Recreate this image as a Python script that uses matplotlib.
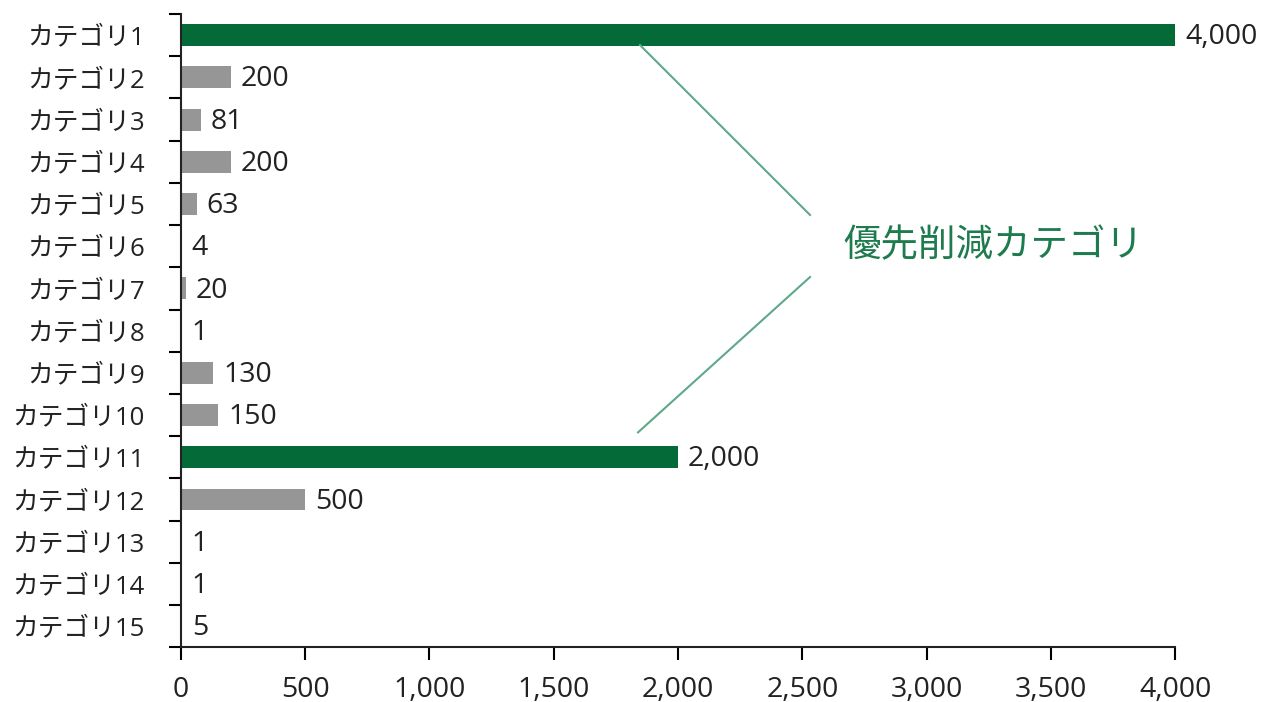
import matplotlib
matplotlib.use("Agg")
import matplotlib.pyplot as plt
from matplotlib.ticker import FuncFormatter, FixedLocator

plt.rcParams['font.family'] = ['Open Sans', 'Noto Sans CJK JP', 'DejaVu Sans']

categories = [f"カテゴリ{i}" for i in range(1, 16)]
values = [4000, 200, 81, 200, 63, 4, 20, 1, 130, 150, 2000, 500, 1, 1, 5]
priority = ["カテゴリ1", "カテゴリ11"]
annotation_label = "優先削減カテゴリ"
x_ticks = [0, 500, 1000, 1500, 2000, 2500, 3000, 3500, 4000]

green = "#046A38"
gray = "#969696"
text_color = "#222222"
colors = [green if c in priority else gray for c in categories]

fig = plt.figure(figsize=(12.65, 7.02), dpi=100)
ax = fig.add_axes([0.143, 0.078, 0.786, 0.902])

y = list(range(len(categories)))
ax.barh(y, values, height=0.52, color=colors)
ax.set_ylim(len(categories) - 0.5, -0.5)
ax.set_xlim(0, 4000)

for yi, v in zip(y, values):
    ax.text(v + 40, yi + 0.05, f"{v:,}", va='center', ha='left', fontsize=20.5, color=text_color)

ax.set_yticks(y)
ax.set_yticklabels(categories, fontsize=18.5, color=text_color)
ax.tick_params(axis='y', which='major', length=0, pad=26)
ax.yaxis.set_minor_locator(FixedLocator([i - 0.5 for i in range(len(categories) + 1)]))
ax.tick_params(axis='y', which='minor', length=9, width=1.5, direction='out')

ax.set_xticks(x_ticks)
ax.xaxis.set_major_formatter(FuncFormatter(lambda v, p: f"{int(v):,}"))
ax.tick_params(axis='x', length=9, width=1.5, direction='out', labelsize=20.5, pad=12, labelcolor=text_color)

for s in ['top', 'right']:
    ax.spines[s].set_visible(False)
for s in ['left', 'bottom']:
    ax.spines[s].set_linewidth(1.5)
    ax.spines[s].set_color(text_color)

line_color = "#5FA88A"
ax.plot([1847, 2531], [0.235, 4.26], color=line_color, lw=1.5, clip_on=False)
ax.plot([2531, 1839], [5.73, 9.41], color=line_color, lw=1.5, clip_on=False)
ax.text(2664, 5.0, annotation_label, fontsize=27, color="#1E7B4E", va='center', ha='left')

fig.savefig("out.png", dpi=100)
